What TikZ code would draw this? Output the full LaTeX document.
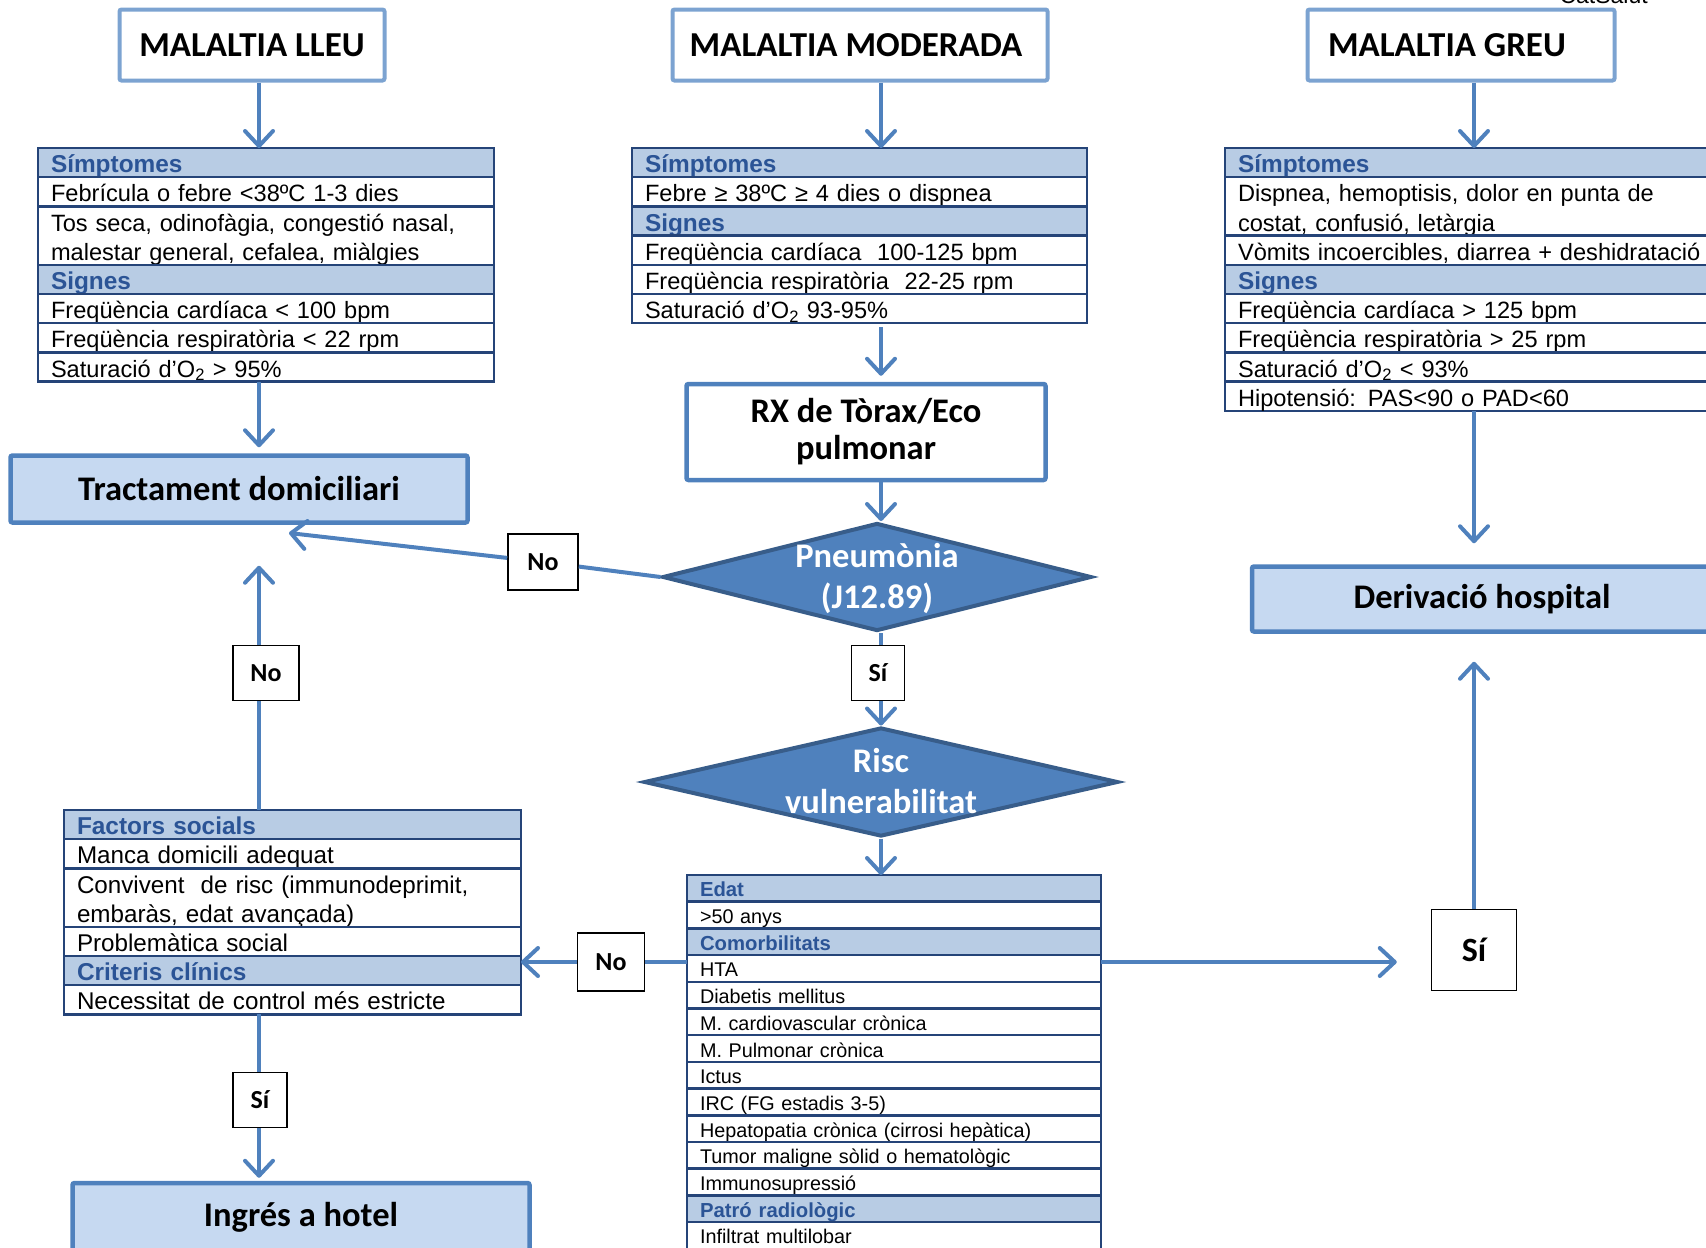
\documentclass[tikz,border=0pt]{standalone}
\usepackage{fontspec}
\setmainfont{Liberation Sans}
\newfontfamily\carl{Carlito}
\usetikzlibrary{positioning,shapes.geometric,arrows.meta}

\definecolor{boxblue}{RGB}{79,129,189}
\definecolor{lightline}{RGB}{124,163,209}
\definecolor{boxfill}{RGB}{198,217,241}
\definecolor{navy}{RGB}{37,68,120}
\definecolor{hdrfill}{RGB}{184,204,228}
\definecolor{hdrtext}{RGB}{43,84,150}
\definecolor{diamline}{RGB}{56,93,138}

% text inside a diamond, kept out of the shape's size
\newcommand{\dtext}[1]{\smash{\raisebox{-.25em}{\begin{tabular}{@{}c@{}}#1\end{tabular}}}}

\tikzset{
  titlebox/.style={draw=lightline, line width=4pt, fill=white, rounded corners=2pt, inner sep=0pt,
    font=\carl\bfseries\fontsize{35}{40}\selectfont},
  result/.style={draw=boxblue, line width=4.5pt, fill=boxfill, rounded corners=2pt, inner sep=0pt,
    font=\carl\bfseries\fontsize{34.5}{37}\selectfont},
  decision/.style={diamond, aspect=4, draw=diamline, line width=4pt, fill=boxblue, inner sep=0pt, text=white,
    font=\carl\bfseries\fontsize{34.5}{41}\selectfont},
  answer/.style={draw=black, line width=1.5pt, fill=white, inner sep=0pt,
    font=\carl\bfseries\fontsize{26}{30}\selectfont},
  row/.style={draw=navy, line width=2.5pt, fill=white, outer sep=0pt, inner xsep=13pt, inner ysep=0pt,
    align=left, text width=#1, minimum height=29.2pt, text height=22.5pt, text depth=2.5pt,
    font=\fontsize{23.6}{29.2}\selectfont},
  head/.style={row=#1, fill=hdrfill, text=hdrtext, font=\bfseries\fontsize{24.4}{29.2}\selectfont},
  tall/.style={row=#1, minimum height=58.4pt, text depth=31.7pt},
  erow/.style={row=#1, minimum height=26.7pt, text height=19pt, text depth=2pt,
    font=\fontsize{19.8}{26.7}\selectfont},
  ehead/.style={erow=#1, fill=hdrfill, text=hdrtext, font=\bfseries\fontsize{20.3}{26.7}\selectfont},
  link/.style={draw=boxblue, line width=4pt},
  arr/.style={link, -{Straight Barb[length=15pt,width=28pt,line cap=round,line join=round]}},
}

\begin{document}
\begin{tikzpicture}[x=1pt, y=-1pt]
  \useasboundingbox (0,0) rectangle (1706,1248);

  % axes of the three columns
  \coordinate (cl) at (259,0);
  \coordinate (cm) at (881,0);
  \coordinate (cr) at (1474,0);

  \node[anchor=base west, font=\fontsize{23}{28}\selectfont] (cat) at (1556,3) {CatSalut};

  % severity
  \node[titlebox, minimum width=265pt, minimum height=71pt] (lleu) at (252,45) {MALALTIA LLEU};
  \node[titlebox, minimum width=375pt, minimum height=71pt] (mod) at (860,45) {\kern-8pt MALALTIA MODERADA};
  \node[titlebox, minimum width=307pt, minimum height=71pt] (greu) at (1461,45) {\kern-28pt MALALTIA GREU};

  % mild
  \node[head=430pt, anchor=north west] (lleuS) at (38,148) {Símptomes};
  \node[row=430pt, below=0pt of lleuS] (lleu1) {Febrícula o febre <38ºC 1-3 dies};
  \node[tall=430pt, below=0pt of lleu1] (lleu2) {Tos seca, odinofàgia, congestió nasal,\\malestar general, cefalea, miàlgies};
  \node[head=430pt, below=0pt of lleu2] (lleuG) {Signes};
  \node[row=430pt, below=0pt of lleuG] (lleu3) {Freqüència cardíaca < 100 bpm};
  \node[row=430pt, below=0pt of lleu3] (lleu4) {Freqüència respiratòria < 22 rpm};
  \node[row=430pt, below=0pt of lleu4] (lleu5) {Saturació d’O\textsubscript{2} > 95\%};

  % moderate
  \node[head=429pt, anchor=north west] (modS) at (632,148) {Símptomes};
  \node[row=429pt, below=0pt of modS] (mod1) {Febre ≥ 38ºC ≥ 4 dies o dispnea};
  \node[head=429pt, below=0pt of mod1] (modG) {Signes};
  \node[row=429pt, below=0pt of modG] (mod2) {Freqüència cardíaca \ 100-125 bpm};
  \node[row=429pt, below=0pt of mod2] (mod3) {Freqüència respiratòria \ 22-25 rpm};
  \node[row=429pt, below=0pt of mod3] (mod4) {Saturació d’O\textsubscript{2} 93-95\%};

  % severe
  \node[head=479pt, anchor=north west] (greuS) at (1225,148) {Símptomes};
  \node[tall=479pt, below=0pt of greuS] (greu1) {Dispnea, hemoptisis, dolor en punta de\\costat, confusió, letàrgia};
  \node[row=479pt, below=0pt of greu1] (greu2) {Vòmits incoercibles, diarrea + deshidratació};
  \node[head=479pt, below=0pt of greu2] (greuG) {Signes};
  \node[row=479pt, below=0pt of greuG] (greu3) {Freqüència cardíaca > 125 bpm};
  \node[row=479pt, below=0pt of greu3] (greu4) {Freqüència respiratòria > 25 rpm};
  \node[row=479pt, below=0pt of greu4] (greu5) {Saturació d’O\textsubscript{2} < 93\%};
  \node[row=479pt, below=0pt of greu5] (greu6) {Hipotensió: PAS<90 o PAD<60};

  % outcomes
  \node[result, minimum width=457pt, minimum height=67pt] (trac) at (239,489) {Tractament domiciliari};
  \node[result, minimum width=460pt, minimum height=65pt] (deriv) at (1482,599) {Derivació hospital};
  \node[result, minimum width=457pt, minimum height=68pt] (hotel) at (301,1217) {Ingrés a hotel};
  \node[result, fill=white, align=center, minimum width=359pt, minimum height=96pt] (rx) at (866,432) {RX de Tòrax/Eco\\pulmonar};

  % decisions
  \node[decision, minimum width=429pt, minimum height=108pt] (pneu) at (877,577) {\dtext{Pneumònia\\(J12.89)}};
  \node[decision, minimum width=474pt, minimum height=109pt] (risc) at (881,782) {\dtext{Risc\\vulnerabilitat}};

  % vulnerability criteria
  \node[ehead=388pt, anchor=north west] (edS) at (687,875) {Edat};
  \node[erow=388pt, below=0pt of edS] (ed1) {>50 anys};
  \node[ehead=388pt, below=0pt of ed1] (edC) {Comorbilitats};
  \node[erow=388pt, below=0pt of edC] (ed2) {HTA};
  \node[erow=388pt, below=0pt of ed2] (ed3) {Diabetis mellitus};
  \node[erow=388pt, below=0pt of ed3] (ed4) {M. cardiovascular crònica};
  \node[erow=388pt, below=0pt of ed4] (ed5) {M. Pulmonar crònica};
  \node[erow=388pt, below=0pt of ed5] (ed6) {Ictus};
  \node[erow=388pt, below=0pt of ed6] (ed7) {IRC (FG estadis 3-5)};
  \node[erow=388pt, below=0pt of ed7] (ed8) {Hepatopatia crònica (cirrosi hepàtica)};
  \node[erow=388pt, below=0pt of ed8] (ed9) {Tumor maligne sòlid o hematològic};
  \node[erow=388pt, below=0pt of ed9] (ed10) {Immunosupressió};
  \node[ehead=388pt, below=0pt of ed10] (edP) {Patró radiològic};
  \node[erow=388pt, below=0pt of edP] (ed11) {Infiltrat multilobar};

  % social factors
  \node[head=431pt, anchor=north west] (facS) at (64,810) {Factors socials};
  \node[row=431pt, below=0pt of facS, font=\fontsize{24.2}{29.2}\selectfont] (fac1) {Manca domicili adequat};
  \node[tall=431pt, below=0pt of fac1, font=\fontsize{24.2}{29.2}\selectfont] (fac2) {Convivent \ de risc (immunodeprimit,\\embaràs, edat avançada)};
  \node[row=431pt, below=0pt of fac2, font=\fontsize{24.2}{29.2}\selectfont] (fac3) {Problemàtica social};
  \node[head=431pt, below=0pt of fac3] (facC) {Criteris clínics};
  \node[row=431pt, below=0pt of facC, font=\fontsize{24.2}{29.2}\selectfont] (fac4) {Necessitat de control més estricte};

  % answers
  \node[answer, minimum width=70pt, minimum height=56pt] (noP) at (543,562) {No};
  \node[answer, minimum width=66pt, minimum height=55pt] (noF) at (266,673) {No};
  \node[answer, minimum width=53pt, minimum height=55pt] (siP) at (878,673) {Sí};
  \node[answer, minimum width=67pt, minimum height=58pt] (noE) at (611,962) {No};
  \node[answer, minimum width=85pt, minimum height=81pt, font=\carl\bfseries\fontsize{34}{40}\selectfont] (siE) at (1474,950) {Sí};
  \node[answer, minimum width=54pt, minimum height=55pt] (siF) at (260,1100) {Sí};

  \coordinate (tipP) at (289,533);

  % connectors
  \draw[arr] (lleu.south -| cl) -- (lleuS.north -| cl);
  \draw[arr] (mod.south -| cm) -- (modS.north -| cm);
  \draw[arr] (greu.south -| cr) -- (greuS.north -| cr);
  \draw[arr, shorten >=6pt] (lleu5.south -| cl) -- (trac.north -| cl);
  \draw[arr, shorten <=4pt, shorten >=6pt] (mod4.south -| cm) -- (rx.north -| cm);
  \draw[arr] (rx.south -| cm) -- (pneu.north -| cm);
  \draw[link] (pneu.south -| cm) -- (siP.north -| cm);
  \draw[arr] (siP.south -| cm) -- (risc.north -| cm);
  \draw[arr] (risc.south -| cm) -- (edS.north -| cm);
  \draw[arr, shorten >=21pt] (greu6.south -| cr) -- (deriv.north -| cr);
  \draw[link] (pneu.west) -- (noP);
  \draw[arr] (noP) -- (tipP);
  \draw[link] (facS.north -| cl) -- (noF.south -| cl);
  \draw[arr, shorten >=41pt] (noF.north -| cl) -- (trac.south -| cl);
  \draw[link] (fac4.south -| cl) -- (siF.north -| cl);
  \draw[arr, shorten >=3pt] (siF.south -| cl) -- (hotel.north -| cl);
  \draw[link] (noE.east -| edS.west) -- (noE.east);
  \draw[arr] (noE.west) -- (noE.west -| facS.east);
  \draw[arr, shorten >=34pt] (noE.east -| edS.east) -- (noE.east -| siE.west);
  \draw[arr, shorten >=28pt] (siE.north) -- (deriv.south -| siE);
\end{tikzpicture}
\end{document}
